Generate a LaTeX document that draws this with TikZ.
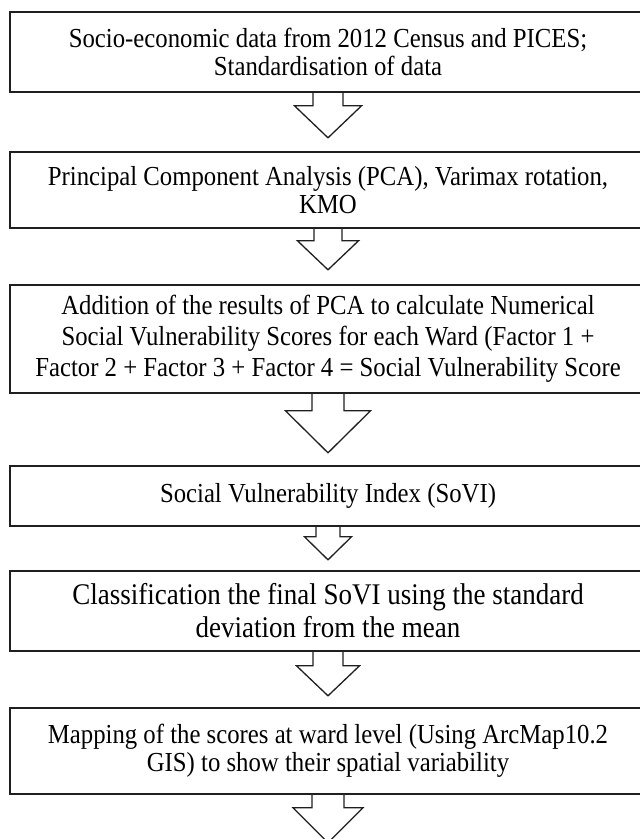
\documentclass[tikz,border=0pt]{standalone}
\usepackage{fontspec}
\setmainfont{Liberation Serif}[FakeStretch=0.9]
\begin{document}
\begin{tikzpicture}[x=1pt,y=1pt,
  box/.style={draw=black!88, line width=1.6pt, minimum width=636pt, inner sep=0pt, align=center, font=\fontsize{27.5}{28}\selectfont},
  harrow/.style={draw=black!88, line width=1.3pt, line join=miter}]
\useasboundingbox (0,0) rectangle (640,-839);
\clip (0,0) rectangle (640,-839);
\fill[white] (0,0) rectangle (640,-839);
\newcommand{\hollowarrow}[5]{% node, shaft width, shaft length, wing width, head height
  \draw[harrow] ([xshift=-#2/2]#1.south) -- ++(0,-#3) -- ++(-#4/2+#2/2,0) -- ++(#4/2,-#5) -- ++(#4/2,#5) -- ++(-#4/2+#2/2,0) -- ++(0,#3);}
\node[box, minimum height=80pt] (b1) at (328,-52) {Socio-economic data from 2012 Census and PICES;\\Standardisation of data};
\node[box, minimum height=76pt] (b2) at (328,-190) {Principal Component Analysis (PCA), Varimax rotation,\\KMO};
\node[box, minimum height=108pt, font=\fontsize{27.5}{31}\selectfont] (b3) at (328,-339) {Addition of the results of PCA to calculate Numerical\\Social Vulnerability Scores for each Ward (Factor 1 +\\Factor 2 + Factor 3 + Factor 4 = Social Vulnerability Score};
\node[box, minimum height=60pt] (b4) at (328,-496) {Social Vulnerability Index (SoVI)};
\node[box, minimum height=80pt, font=\fontsize{30}{33}\selectfont] (b5) at (328,-611) {Classification the final SoVI using the standard\\deviation from the mean};
\node[box, minimum height=86pt] (b6) at (328,-751) {Mapping of the scores at ward level (Using ArcMap10.2\\GIS) to show their spatial variability};
\hollowarrow{b1}{30}{13}{67}{32}
\hollowarrow{b2}{28}{12}{61}{29}
\hollowarrow{b3}{32}{17}{85}{42}
\hollowarrow{b4}{24}{10}{47}{23}
\hollowarrow{b5}{30}{14}{63}{30}
\hollowarrow{b6}{32}{13}{70}{35}
\end{tikzpicture}
\end{document}
